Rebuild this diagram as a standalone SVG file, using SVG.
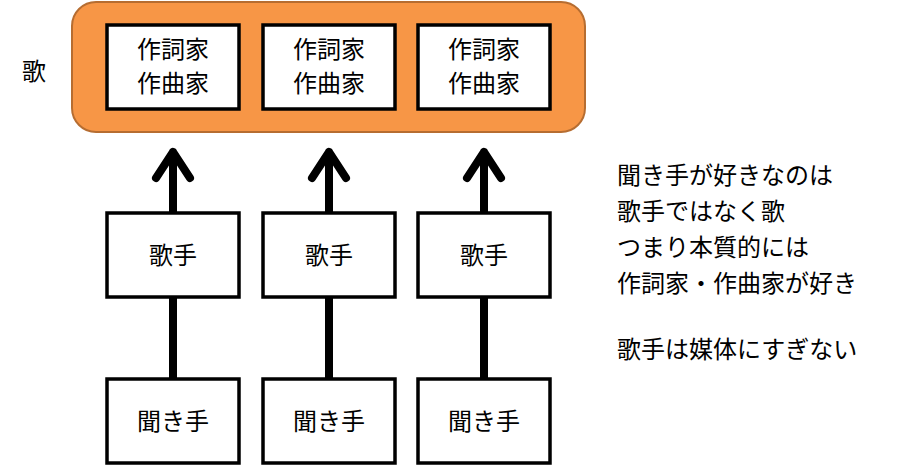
<svg xmlns="http://www.w3.org/2000/svg" width="902" height="465" viewBox="0 0 902 465">
<style>
text{font-family:"Noto Sans CJK JP","Noto Sans CJK SC",sans-serif;font-size:24px;fill:#000}
.b{fill:#fff;stroke:#000;stroke-width:3.5}
.c{fill:none;stroke:#000;stroke-width:8;stroke-linecap:round;stroke-linejoin:round}
</style>
<rect width="902" height="465" fill="#fff"/>
<g id="song">
<rect x="72" y="2" width="513" height="130" rx="24" fill="#F79646" stroke="#B66D31" stroke-width="2"/>
<text x="22" y="80">歌</text>
</g>
<g id="composer1"><rect class="b" x="107" y="25" width="132" height="84"/><text x="173" y="58" text-anchor="middle">作詞家</text><text x="173" y="92" text-anchor="middle">作曲家</text></g>
<g id="composer2"><rect class="b" x="263" y="25" width="132" height="84"/><text x="329" y="58" text-anchor="middle">作詞家</text><text x="329" y="92" text-anchor="middle">作曲家</text></g>
<g id="composer3"><rect class="b" x="418" y="25" width="132" height="84"/><text x="484" y="58" text-anchor="middle">作詞家</text><text x="484" y="92" text-anchor="middle">作曲家</text></g>
<g id="connectors">
<path class="c" d="M173 213V152M156 178L173 152L190 178M173 298V378"/>
<path class="c" d="M329 213V152M312 178L329 152L346 178M329 298V378"/>
<path class="c" d="M484 213V152M467 178L484 152L501 178M484 298V378"/>
</g>
<g id="singer1"><rect class="b" x="107" y="213" width="132" height="84"/><text x="173" y="264" text-anchor="middle">歌手</text></g>
<g id="singer2"><rect class="b" x="263" y="213" width="132" height="84"/><text x="329" y="264" text-anchor="middle">歌手</text></g>
<g id="singer3"><rect class="b" x="418" y="213" width="132" height="84"/><text x="484" y="264" text-anchor="middle">歌手</text></g>
<g id="listener1"><rect class="b" x="107" y="379" width="132" height="84"/><text x="173" y="430" text-anchor="middle">聞き手</text></g>
<g id="listener2"><rect class="b" x="263" y="379" width="132" height="84"/><text x="329" y="430" text-anchor="middle">聞き手</text></g>
<g id="listener3"><rect class="b" x="418" y="379" width="132" height="84"/><text x="484" y="430" text-anchor="middle">聞き手</text></g>
<g id="note">
<text x="617" y="184">聞き手が好きなのは</text>
<text x="617" y="220">歌手ではなく歌</text>
<text x="617" y="256">つまり本質的には</text>
<text x="617" y="292">作詞家・作曲家が好き</text>
<text x="617" y="358">歌手は媒体にすぎない</text>
</g>
</svg>
